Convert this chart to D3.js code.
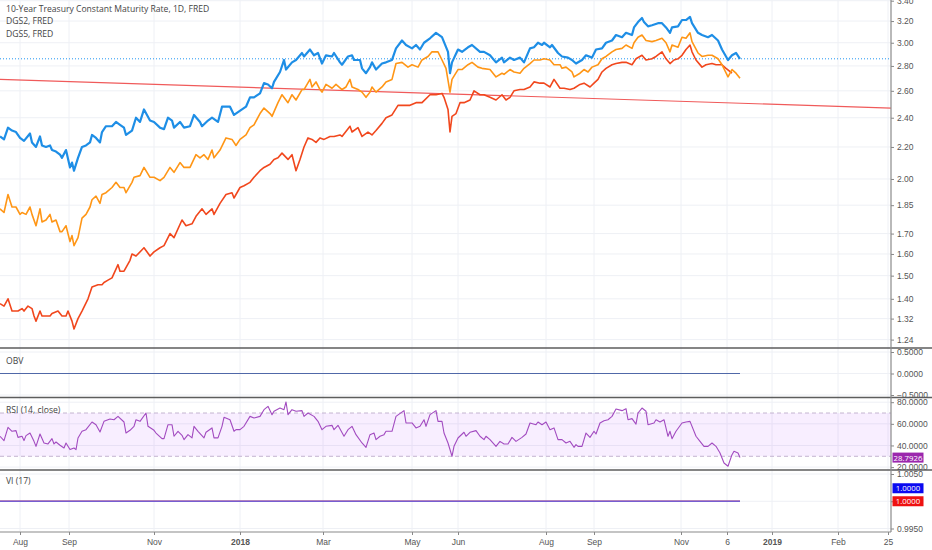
<!DOCTYPE html>
<html>
<head>
<meta charset="utf-8">
<script src="https://cdn.jsdelivr.net/npm/d3@7"></script>
<style>
  body { margin: 0; background: #fff; }
  svg { display: block; font-family: "Open Sans", "Liberation Sans", sans-serif; }
  .axis text { fill: #555; font-size: 8.5px; }
  .axis line { stroke: #888; }
  .axis path { display: none; }
  .legend { fill: #444; font-size: 8.6px; }
</style>
</head>
<body>
<svg id="chart" width="932" height="550"></svg>
<script>
// bar index (trading day) , yield in %
let tenYear = [[0,2.27],[2,2.25],[4,2.33],[6,2.31],[8,2.30],[10,2.26],[12,2.24],[15,2.29],[16,2.23],[18,2.20],[20,2.27],[21,2.21],[23,2.20],[25,2.21],[26,2.18],[28,2.17],[30,2.15],[31,2.13],[33,2.18],[35,2.07],[36,2.10],[37,2.05],[39,2.13],[41,2.20],[43,2.21],[45,2.23],[46,2.28],[48,2.26],[50,2.23],[51,2.30],[53,2.34],[56,2.34],[58,2.37],[60,2.35],[62,2.33],[63,2.28],[66,2.31],[68,2.40],[70,2.37],[72,2.46],[75,2.38],[77,2.37],[80,2.33],[82,2.32],[84,2.40],[86,2.38],[87,2.33],[90,2.37],[92,2.33],[95,2.34],[97,2.42],[100,2.37],[101,2.34],[104,2.38],[106,2.40],[109,2.37],[111,2.48],[115,2.48],[117,2.42],[119,2.44],[123,2.48],[125,2.55],[127,2.55],[130,2.58],[132,2.66],[134,2.65],[136,2.62],[137,2.67],[140,2.75],[142,2.85],[143,2.77],[146,2.83],[148,2.85],[151,2.91],[152,2.88],[155,2.94],[157,2.89],[159,2.91],[161,2.82],[163,2.89],[166,2.88],[167,2.91],[170,2.83],[171,2.81],[174,2.88],[176,2.89],[177,2.85],[180,2.85],[181,2.78],[183,2.74],[185,2.79],[186,2.83],[188,2.77],[191,2.82],[193,2.83],[196,2.85],[198,2.95],[201,3.02],[203,2.98],[206,2.95],[208,2.98],[210,2.94],[212,3.00],[215,3.04],[218,3.09],[221,3.05],[224,2.92],[225,2.74],[226,2.83],[229,2.94],[231,2.92],[234,2.96],[236,2.98],[240,2.92],[242,2.92],[245,2.89],[248,2.83],[251,2.87],[252,2.83],[255,2.87],[257,2.85],[260,2.87],[262,2.83],[265,2.95],[267,2.96],[269,3.00],[271,2.98],[272,3.00],[275,2.96],[276,2.98],[279,2.91],[281,2.88],[284,2.87],[286,2.85],[288,2.82],[291,2.85],[293,2.89],[296,2.87],[298,2.94],[301,2.95],[303,3.00],[306,3.02],[308,3.07],[311,3.05],[313,3.09],[316,3.07],[317,3.14],[319,3.19],[321,3.23],[322,3.19],[324,3.15],[326,3.16],[329,3.18],[331,3.18],[333,3.14],[335,3.09],[336,3.14],[339,3.15],[341,3.21],[343,3.21],[345,3.24],[346,3.18],[349,3.09],[351,3.07],[354,3.05],[356,3.07],[359,3.02],[361,2.94],[364,2.85],[366,2.89],[368,2.91],[370,2.86]]

let dgs5 = [[0,1.83],[2,1.81],[4,1.91],[6,1.84],[8,1.84],[10,1.80],[11,1.81],[13,1.80],[15,1.84],[16,1.80],[18,1.74],[20,1.83],[21,1.76],[23,1.77],[25,1.80],[26,1.76],[28,1.77],[30,1.71],[31,1.71],[33,1.74],[35,1.66],[36,1.69],[37,1.64],[39,1.68],[41,1.78],[43,1.80],[45,1.84],[46,1.88],[48,1.90],[50,1.86],[51,1.91],[53,1.92],[56,1.95],[58,1.98],[60,1.95],[62,1.95],[63,1.92],[66,1.98],[67,2.01],[70,2.02],[72,2.07],[75,2.01],[77,2.01],[80,1.99],[82,2.01],[85,2.07],[87,2.04],[90,2.10],[92,2.07],[95,2.07],[98,2.15],[100,2.13],[102,2.15],[104,2.12],[106,2.18],[107,2.13],[110,2.18],[113,2.26],[116,2.25],[118,2.21],[120,2.25],[123,2.28],[125,2.33],[127,2.35],[130,2.43],[132,2.47],[135,2.43],[136,2.41],[139,2.51],[141,2.57],[144,2.51],[146,2.57],[148,2.53],[151,2.61],[152,2.61],[155,2.69],[156,2.63],[158,2.67],[160,2.61],[161,2.59],[163,2.65],[166,2.62],[168,2.65],[171,2.61],[173,2.63],[175,2.69],[176,2.63],[179,2.61],[181,2.59],[183,2.55],[185,2.59],[186,2.63],[188,2.59],[191,2.63],[193,2.67],[196,2.69],[198,2.82],[201,2.83],[204,2.79],[206,2.81],[209,2.79],[211,2.85],[214,2.88],[216,2.92],[219,2.92],[221,2.85],[223,2.78],[225,2.59],[226,2.69],[229,2.77],[231,2.77],[234,2.81],[236,2.83],[239,2.79],[241,2.78],[245,2.77],[248,2.71],[251,2.74],[252,2.73],[255,2.77],[257,2.75],[260,2.74],[262,2.78],[265,2.82],[267,2.85],[270,2.85],[272,2.86],[275,2.85],[277,2.81],[280,2.81],[281,2.78],[283,2.79],[286,2.75],[287,2.71],[290,2.74],[292,2.77],[294,2.75],[296,2.79],[299,2.81],[301,2.86],[303,2.88],[306,2.92],[308,2.94],[311,2.95],[313,2.98],[316,2.95],[317,3.00],[319,3.05],[321,3.07],[323,3.02],[326,3.01],[328,3.02],[331,3.04],[333,3.00],[335,2.92],[336,2.98],[339,2.96],[341,3.05],[343,3.04],[345,3.09],[346,3.01],[349,2.91],[351,2.88],[354,2.89],[356,2.89],[359,2.86],[361,2.81],[364,2.71],[366,2.77],[368,2.74],[370,2.70]]

let dgs2 = [[0,1.38],[2,1.37],[4,1.40],[6,1.35],[9,1.35],[11,1.36],[12,1.35],[14,1.37],[16,1.36],[17,1.33],[18,1.31],[20,1.35],[21,1.33],[23,1.33],[25,1.33],[26,1.34],[29,1.35],[31,1.33],[33,1.33],[34,1.35],[36,1.31],[37,1.28],[39,1.32],[41,1.35],[44,1.40],[46,1.45],[49,1.46],[51,1.46],[52,1.47],[54,1.48],[56,1.49],[59,1.55],[60,1.52],[62,1.52],[65,1.57],[66,1.60],[68,1.59],[72,1.63],[75,1.59],[77,1.61],[80,1.63],[82,1.64],[85,1.70],[87,1.68],[91,1.77],[93,1.74],[96,1.75],[98,1.79],[101,1.83],[103,1.80],[106,1.83],[107,1.80],[110,1.86],[113,1.91],[116,1.92],[117,1.89],[120,1.95],[122,1.96],[125,1.98],[127,2.01],[130,2.05],[132,2.07],[135,2.09],[137,2.12],[139,2.13],[141,2.16],[144,2.12],[146,2.15],[148,2.05],[150,2.12],[152,2.20],[154,2.26],[156,2.25],[158,2.23],[160,2.26],[162,2.25],[165,2.27],[167,2.27],[170,2.28],[171,2.27],[175,2.34],[176,2.30],[179,2.33],[181,2.27],[184,2.30],[186,2.28],[188,2.31],[191,2.36],[193,2.40],[196,2.42],[199,2.49],[201,2.49],[205,2.49],[208,2.51],[211,2.51],[215,2.57],[218,2.57],[221,2.58],[222,2.55],[224,2.46],[225,2.30],[226,2.41],[228,2.43],[230,2.51],[232,2.51],[235,2.53],[237,2.60],[240,2.57],[242,2.57],[245,2.55],[248,2.53],[251,2.57],[253,2.53],[255,2.55],[257,2.60],[260,2.61],[262,2.61],[265,2.63],[267,2.67],[270,2.66],[272,2.66],[275,2.63],[277,2.69],[280,2.62],[282,2.62],[285,2.61],[287,2.62],[290,2.65],[292,2.66],[295,2.63],[297,2.66],[299,2.69],[301,2.75],[303,2.78],[306,2.81],[308,2.82],[311,2.83],[313,2.83],[316,2.81],[318,2.86],[321,2.89],[323,2.85],[326,2.86],[328,2.88],[331,2.92],[333,2.86],[335,2.82],[337,2.85],[339,2.86],[341,2.89],[343,2.94],[345,2.98],[346,2.92],[348,2.85],[351,2.79],[353,2.81],[356,2.82],[358,2.81],[361,2.81],[363,2.78],[366,2.74]]

// drawn trend line (two anchors)
let trendLine = [[0,2.69],[445.5,2.47]]

let rsi = [[0,48.5],[2,44.5],[4,56.8],[6,53.1],[8,53.7],[9,47.5],[11,48.5],[12,44.5],[13,49.1],[15,51.5],[17,43.8],[18,39.2],[20,50.6],[22,42.3],[24,41.4],[26,46.3],[27,41.4],[28,43.2],[30,40.2],[32,37.7],[33,42.3],[35,36.2],[37,37.7],[38,36.2],[39,46.9],[41,53.1],[43,54.6],[46,61.7],[48,59.2],[50,52.5],[52,62.3],[55,64.5],[57,63.8],[59,66.9],[62,61.7],[63,51.5],[65,54.0],[67,57.7],[68,63.8],[70,62.3],[73,70.0],[74,57.7],[77,54.0],[78,51.5],[81,46.3],[82,46.3],[84,59.2],[86,59.2],[87,48.5],[89,53.1],[91,49.4],[92,45.4],[94,50.0],[96,47.0],[97,57.7],[99,53.1],[102,47.0],[103,52.2],[106,56.2],[107,47.0],[109,47.0],[111,57.7],[112,66.0],[115,63.8],[117,53.1],[118,54.6],[120,54.6],[122,57.7],[125,66.9],[127,65.4],[130,66.9],[132,73.1],[134,76.2],[136,68.5],[137,71.6],[140,74.6],[142,73.1],[143,80.2],[144,68.5],[146,73.1],[148,71.6],[151,72.2],[152,66.9],[154,70.0],[157,66.9],[159,62.3],[161,54.6],[163,57.7],[166,58.6],[167,54.6],[169,58.6],[172,48.5],[174,54.6],[176,57.7],[178,50.0],[181,42.3],[183,38.3],[185,50.0],[187,51.5],[188,45.4],[190,48.5],[192,50.0],[193,53.1],[196,53.1],[198,66.9],[202,72.2],[203,60.8],[206,60.8],[208,56.2],[210,57.7],[212,63.8],[213,57.7],[215,68.5],[218,72.2],[219,62.3],[221,62.3],[222,51.5],[224,42.3],[226,30.0],[227,39.2],[229,46.9],[232,52.2],[233,48.5],[235,52.2],[238,53.7],[240,48.5],[242,45.4],[243,48.5],[245,45.4],[248,39.2],[250,43.8],[252,41.4],[254,41.4],[256,47.5],[258,43.8],[261,47.5],[263,50.6],[265,60.8],[268,59.2],[269,61.7],[271,59.2],[273,61.7],[275,54.6],[277,56.2],[279,45.4],[281,45.4],[283,42.3],[285,43.8],[287,38.3],[288,40.8],[289,39.2],[291,39.2],[293,51.5],[295,47.5],[297,53.1],[298,50.6],[300,60.8],[302,62.9],[304,63.8],[306,66.9],[308,73.7],[311,72.2],[313,74.0],[314,63.8],[316,64.8],[318,59.8],[319,70.0],[321,74.6],[323,71.6],[324,59.2],[327,60.8],[328,63.8],[330,61.7],[332,63.8],[334,48.5],[335,53.1],[336,46.3],[338,53.1],[341,60.8],[343,61.7],[345,62.3],[348,48.5],[350,43.8],[352,39.2],[354,39.2],[356,42.3],[358,39.2],[360,33.1],[362,23.8],[364,20.8],[366,31.5],[367,34.6],[369,33.1],[370,28.7926]]

let obvLine = [[0,0],[370,0]]
let viPlus = [[0,1],[370,1]]
let viMinus = [[0,1],[370,1]]

let mainTicks = [1.24,1.32,1.40,1.50,1.60,1.70,1.85,2.00,2.20,2.40,2.60,2.80,3.00,3.20,3.40]
let obvTicks = [0.5,0,-0.5]
let rsiTicks = [80,60,40,20]
let viTicks = [1.005,1.0,0.995]

let xTickBars = [10,34.5,77,120,161.5,206,229,273,297,340.5,363.5,386,419,444]
let xTickLabels = ['Aug','Sep','Nov','2018','Mar','May','Jun','Aug','Sep','Nov','6','2019','Feb','25']
let legendLines = ['10-Year Treasury Constant Maturity Rate, 1D, FRED','DGS2, FRED','DGS5, FRED']

let W = 932, H = 550
let plotR = 891
let panes = {
    main: {top: 0, bottom: 347},
    obv: {top: 349, bottom: 397},
    rsi: {top: 398, bottom: 469},
    vi: {top: 471, bottom: 531}
}

let svg = d3.select('#chart')
svg.append('rect').attr('width', W).attr('height', H).attr('fill', '#fff')

let x = d3.scaleLinear().domain([0, 445.5]).range([0, plotR])
let yMain = d3.scaleLog().domain([1.213, 3.407]).range([347, 0])
let yObv = d3.scaleLinear().domain([-0.5, 0.5]).range([395, 352])
let yRsi = d3.scaleLinear().domain([20, 80]).range([467.1, 402.2])
let yVi = d3.scaleLinear().domain([0.995, 1.005]).range([528.5, 474])

// clip paths for each pane
let defs = svg.append('defs')
Object.keys(panes).forEach(function(k) {
    defs.append('clipPath').attr('id', 'clip-' + k)
        .append('rect').attr('x', 0).attr('y', panes[k].top)
        .attr('width', plotR).attr('height', panes[k].bottom - panes[k].top)
})

// grid
let grid = svg.append('g')
xTickBars.forEach(function(b) {
    grid.append('line').attr('x1', x(b)).attr('x2', x(b)).attr('y1', 0).attr('y2', 531)
        .attr('stroke', '#eef0f5').attr('stroke-width', 1)
})
function hgrid(scale, ticks, pane) {
    ticks.forEach(function(t) {
        grid.append('line').attr('x1', 0).attr('x2', plotR)
            .attr('y1', scale(t)).attr('y2', scale(t))
            .attr('stroke', '#eef0f5').attr('stroke-width', 1)
            .attr('clip-path', 'url(#clip-' + pane + ')')
    })
}
hgrid(yMain, mainTicks, 'main')
hgrid(yObv, obvTicks, 'obv')
hgrid(yRsi, rsiTicks, 'rsi')
hgrid(yVi, viTicks, 'vi')

// rsi band
svg.append('rect')
    .attr('x', 0).attr('width', plotR)
    .attr('y', yRsi(70)).attr('height', yRsi(30) - yRsi(70))
    .attr('fill', '#9915ff').attr('fill-opacity', 0.07)
;[70, 30].forEach(function(v) {
    svg.append('line').attr('x1', 0).attr('x2', plotR)
        .attr('y1', yRsi(v)).attr('y2', yRsi(v))
        .attr('stroke', '#c3b4d0').attr('stroke-dasharray', '4,3')
})

// main series
let lineMain = d3.line().x(d => x(d[0])).y(d => yMain(d[1]))
let mainG = svg.append('g').attr('clip-path', 'url(#clip-main)')

mainG.append('path').datum(trendLine).attr('d', lineMain)
    .attr('fill', 'none').attr('stroke', '#f05a5a').attr('stroke-width', 1.2)

let lastTen = tenYear[tenYear.length - 1][1]
mainG.append('line').attr('x1', 0).attr('x2', plotR)
    .attr('y1', yMain(lastTen)).attr('y2', yMain(lastTen))
    .attr('stroke', '#2196f3').attr('stroke-width', 1).attr('stroke-dasharray', '1,2')

mainG.append('path').datum(dgs2).attr('d', lineMain)
    .attr('fill', 'none').attr('stroke', '#f1471d').attr('stroke-width', 1.6)
    .attr('stroke-linejoin', 'round')
mainG.append('path').datum(dgs5).attr('d', lineMain)
    .attr('fill', 'none').attr('stroke', '#ff9616').attr('stroke-width', 1.6)
    .attr('stroke-linejoin', 'round')
mainG.append('path').datum(tenYear).attr('d', lineMain)
    .attr('fill', 'none').attr('stroke', '#1e8ee6').attr('stroke-width', 2.2)
    .attr('stroke-linejoin', 'round')

// obv
svg.append('path').datum(obvLine)
    .attr('d', d3.line().x(d => x(d[0])).y(d => yObv(d[1])))
    .attr('fill', 'none').attr('stroke', '#5068a8').attr('stroke-width', 1)

// rsi
svg.append('path').datum(rsi)
    .attr('d', d3.line().x(d => x(d[0])).y(d => yRsi(d[1])))
    .attr('clip-path', 'url(#clip-rsi)')
    .attr('fill', 'none').attr('stroke', '#a24bc0').attr('stroke-width', 1.1)
    .attr('stroke-linejoin', 'round')

// vortex
let lineVi = d3.line().x(d => x(d[0])).y(d => yVi(d[1]))
svg.append('path').datum(viMinus).attr('d', lineVi)
    .attr('fill', 'none').attr('stroke', '#e04848').attr('stroke-width', 1.3)
svg.append('path').datum(viPlus).attr('d', lineVi)
    .attr('fill', 'none').attr('stroke', '#6a5fe0').attr('stroke-width', 1.3).attr('stroke-opacity', 0.9)

// pane separators and frame
;[348, 397.5, 470].forEach(function(yy) {
    svg.append('line').attr('x1', 0).attr('x2', W).attr('y1', yy).attr('y2', yy)
        .attr('stroke', '#5d5d5d').attr('stroke-width', 1.3)
})
svg.append('line').attr('x1', plotR).attr('x2', plotR).attr('y1', 0).attr('y2', 532)
    .attr('stroke', '#8a8a8a').attr('stroke-width', 1.2)
svg.append('line').attr('x1', 0).attr('x2', plotR).attr('y1', 532).attr('y2', 532)
    .attr('stroke', '#8a8a8a').attr('stroke-width', 1.2)

// right axes
function rightAxis(scale, ticks, fmt) {
    svg.append('g').attr('class', 'axis')
        .attr('transform', `translate(${plotR},0)`)
        .call(d3.axisRight(scale).tickValues(ticks).tickFormat(fmt).tickSize(3).tickPadding(3))
}
rightAxis(yMain, mainTicks, d3.format('.2f'))
rightAxis(yObv, obvTicks, d3.format('.4f'))
rightAxis(yRsi, rsiTicks, d3.format('.4f'))
rightAxis(yVi, viTicks, d3.format('.4f'))

// bottom axis
let xAxis = svg.append('g').attr('class', 'axis')
    .attr('transform', 'translate(0,532)')
    .call(d3.axisBottom(x).tickValues(xTickBars)
        .tickFormat((d, i) => xTickLabels[i]).tickSize(3).tickPadding(4))
xAxis.selectAll('text')
    .style('font-weight', (d, i) => /^\d{4}$/.test(xTickLabels[i]) ? 700 : 400)

// value tags
function tag(yc, txt, color) {
    svg.append('rect').attr('x', 892.5).attr('y', yc - 5).attr('width', 31).attr('height', 10)
        .attr('fill', color)
    svg.append('text').attr('x', 908).attr('y', yc + 3).attr('text-anchor', 'middle')
        .attr('fill', '#fff').style('font-size', '7.8px').text(txt)
}
let lastRsi = rsi[rsi.length - 1][1]
tag(yRsi(lastRsi), d3.format('.4f')(lastRsi), '#9b27ad')
tag(yVi(viPlus[1][1]) - 13, d3.format('.4f')(viPlus[1][1]), '#0a0af0')
tag(yVi(viMinus[1][1]), d3.format('.4f')(viMinus[1][1]), '#ee1111')

// legends
legendLines.forEach(function(t, i) {
    svg.append('text').attr('class', 'legend').attr('x', 6).attr('y', 12 + i * 12.3).text(t)
})
svg.append('text').attr('class', 'legend').attr('x', 6).attr('y', 364).text('OBV')
svg.append('text').attr('class', 'legend').attr('x', 6).attr('y', 413).text('RSI (14, close)')
svg.append('text').attr('class', 'legend').attr('x', 6).attr('y', 484).text('VI (17)')
</script>
</body>
</html>
